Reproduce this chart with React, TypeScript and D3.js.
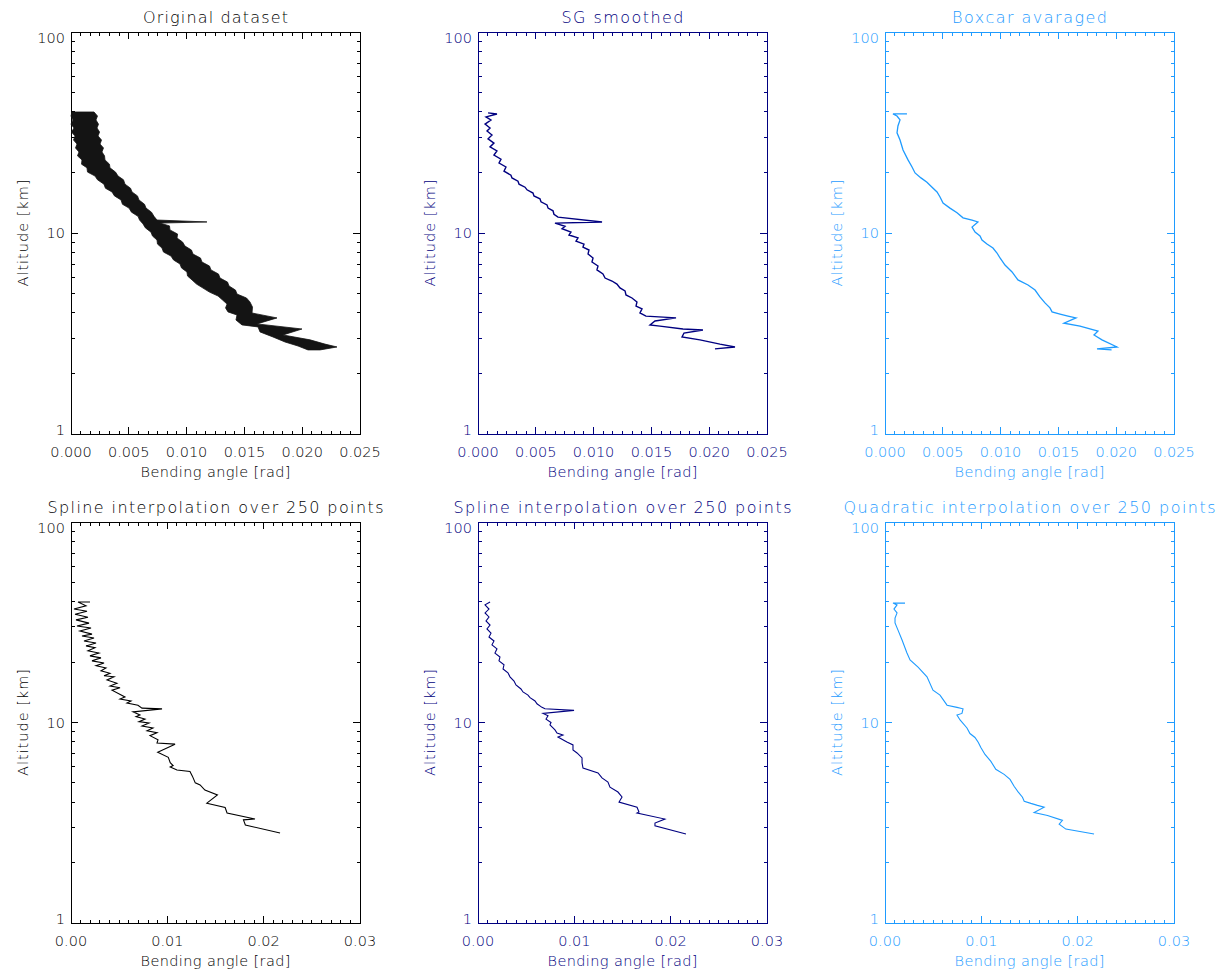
import React from "react";
import * as d3 from "d3";

type Pt = [number, number]; // [altitude km, bending angle rad]

// ---------- DATA ----------
// Original dataset: dense noisy profile, given by the left and right edges of its band
const originalLeftEdge: Pt[] = [
  [40.0, 0.00009], [38.2, 0.0], [36.5, 0.00017], [34.8, 0.0], [33.3, 0.00026], [31.8, 0.00004],
  [30.4, 0.00035], [29.0, 0.00022], [27.7, 0.00052], [26.5, 0.00039], [25.3, 0.00069], [24.2, 0.00056],
  [23.1, 0.00095], [22.0, 0.00091], [21.1, 0.00138], [20.1, 0.00143], [19.2, 0.00208], [18.4, 0.00229],
  [17.5, 0.00285], [16.7, 0.00298], [16.0, 0.00355], [15.3, 0.00376], [14.6, 0.00433], [13.9, 0.00445],
  [13.3, 0.00502], [12.7, 0.00523], [12.1, 0.0058], [11.6, 0.00593], [11.1, 0.00623], [10.6, 0.00644],
  [10.1, 0.00692], [9.66, 0.00705], [9.23, 0.00744], [8.81, 0.00748], [8.42, 0.00787], [8.04, 0.008],
  [7.68, 0.00865], [7.34, 0.00887], [7.01, 0.00943], [6.7, 0.00956], [6.4, 0.01003], [6.11, 0.01008],
  [5.84, 0.01047], [5.57, 0.01086], [5.32, 0.01142], [5.08, 0.01198], [4.86, 0.01272], [4.64, 0.01311],
  [4.43, 0.0135], [4.24, 0.01337], [4.05, 0.01358], [3.91, 0.01436], [3.69, 0.01427], [3.49, 0.01479],
  [3.41, 0.01618], [3.22, 0.01635], [3.04, 0.01747], [2.87, 0.01851], [2.74, 0.01964], [2.62, 0.0205],
];
const originalRightEdge: Pt[] = [
  [40.0, 0.00199], [38.2, 0.00229], [36.5, 0.00216], [34.8, 0.00238], [33.3, 0.00225], [31.8, 0.00247],
  [30.4, 0.00234], [29.0, 0.00264], [27.7, 0.00251], [26.5, 0.00281], [25.3, 0.00268], [24.2, 0.0029],
  [23.1, 0.00294], [22.0, 0.00333], [21.1, 0.00337], [20.1, 0.00385], [19.2, 0.00407], [18.4, 0.00454],
  [17.5, 0.00467], [16.7, 0.00515], [16.0, 0.00528], [15.3, 0.00575], [14.6, 0.00588], [13.9, 0.00636],
  [13.3, 0.00649], [12.7, 0.00696], [12.1, 0.00718], [11.6, 0.00744], [11.35, 0.01176], [11.2, 0.0077],
  [10.85, 0.00852], [10.36, 0.00856], [9.88, 0.00922], [9.44, 0.00917], [9.02, 0.00965], [8.61, 0.00986],
  [8.23, 0.01042], [7.86, 0.01055], [7.51, 0.0112], [7.17, 0.01133], [6.85, 0.01198], [6.55, 0.01211],
  [6.25, 0.01276], [5.97, 0.01289], [5.7, 0.01354], [5.45, 0.01367], [5.2, 0.01423], [4.97, 0.01436],
  [4.75, 0.01518], [4.54, 0.01548], [4.28, 0.0157], [4.0, 0.01566], [3.78, 0.01782], [3.53, 0.01609],
  [3.33, 0.01998], [3.11, 0.01834], [2.94, 0.02068], [2.8, 0.02197], [2.71, 0.02301], [2.62, 0.02154],
];

const sgSmoothed: Pt[] = [
  [39.6, 0.00087], [39.1, 0.00164], [37.8, 0.00069], [36.5, 0.00112], [34.8, 0.00061], [33.3, 0.00104],
  [32.2, 0.00078], [30.7, 0.00121], [29.4, 0.00087], [28.0, 0.00138], [26.8, 0.00104], [25.6, 0.00164],
  [24.4, 0.00138], [23.3, 0.00199], [22.3, 0.00182], [21.3, 0.00242], [20.3, 0.00225], [19.4, 0.00285],
  [18.8, 0.00294], [18.1, 0.00346], [17.5, 0.00355], [16.9, 0.00407], [16.4, 0.00424], [15.8, 0.00476],
  [15.3, 0.00484], [14.8, 0.00536], [14.3, 0.00545], [13.8, 0.00597], [13.3, 0.00606], [12.9, 0.00649],
  [12.4, 0.00657], [12.0, 0.00692], [11.35, 0.01073], [11.2, 0.00666], [10.8, 0.00753], [10.5, 0.00727],
  [10.1, 0.00804], [9.77, 0.00787], [9.45, 0.00865], [9.12, 0.00848], [8.81, 0.00917], [8.51, 0.00908],
  [8.23, 0.0096], [7.86, 0.00952], [7.51, 0.00995], [7.17, 0.00986], [6.85, 0.01038], [6.55, 0.01029],
  [6.25, 0.01081], [5.97, 0.01099], [5.77, 0.01159], [5.57, 0.01202], [5.33, 0.01228], [5.15, 0.01272],
  [4.92, 0.0128], [4.75, 0.01332], [4.54, 0.01375], [4.33, 0.01367], [4.19, 0.01419], [4.0, 0.01401],
  [3.86, 0.01453], [3.78, 0.01713], [3.65, 0.01531], [3.49, 0.01488], [3.44, 0.01574], [3.33, 0.01773],
  [3.29, 0.01946], [3.18, 0.01782], [3.04, 0.01765], [2.94, 0.0192], [2.8, 0.02093], [2.71, 0.02223],
  [2.65, 0.0205],
];

const boxcarAveraged: Pt[] = [
  [39.1, 0.0019], [39.1, 0.00069], [38.2, 0.00104], [36.5, 0.0013], [34.1, 0.00112], [31.5, 0.00104],
  [29.0, 0.0013], [25.9, 0.00156], [23.1, 0.00199], [21.3, 0.00234], [19.9, 0.0026], [18.8, 0.00311],
  [17.9, 0.00363], [16.9, 0.00407], [16.0, 0.0045], [15.1, 0.00476], [14.1, 0.00502], [13.3, 0.00562],
  [12.6, 0.00623], [11.9, 0.00675], [11.6, 0.00753], [11.35, 0.00804], [10.7, 0.00753], [10.1, 0.00779],
  [9.66, 0.00822], [9.23, 0.00839], [8.81, 0.00882], [8.42, 0.00934], [7.95, 0.00969], [7.51, 0.00995],
  [6.93, 0.01038], [6.4, 0.01099], [5.84, 0.0115], [5.51, 0.01237], [5.2, 0.01298], [4.81, 0.0134],
  [4.49, 0.01384], [4.24, 0.01427], [4.05, 0.01445], [3.95, 0.01514], [3.86, 0.01583], [3.78, 0.01652],
  [3.56, 0.01548], [3.44, 0.01687], [3.25, 0.01842], [3.11, 0.01808], [2.94, 0.01877], [2.71, 0.02007],
  [2.65, 0.01834], [2.62, 0.0196],
];

const splineOriginal: Pt[] = [
  [39.9, 0.00197], [39.9, 0.00073], [38.2, 0.00156], [36.8, 0.00031], [35.9, 0.00166], [34.7, 0.00042],
  [33.5, 0.00176], [32.5, 0.00052], [31.3, 0.00187], [30.3, 0.00062], [29.6, 0.00208], [28.6, 0.00093],
  [27.6, 0.00218], [27.0, 0.00114], [26.4, 0.00239], [25.5, 0.00135], [24.9, 0.0026], [24.1, 0.00156],
  [23.6, 0.00249], [22.8, 0.00176], [22.2, 0.0029], [21.5, 0.00197], [21.0, 0.00311], [20.3, 0.00218],
  [19.8, 0.00343], [19.2, 0.0026], [18.7, 0.00363], [18.1, 0.00311], [17.6, 0.00405], [17.1, 0.00343],
  [16.9, 0.00446], [16.3, 0.00374], [15.7, 0.00477], [15.2, 0.00405], [14.9, 0.00509], [14.5, 0.00426],
  [13.4, 0.0056], [13.1, 0.00509], [12.8, 0.00623], [12.5, 0.00581], [12.2, 0.00695], [11.8, 0.00737],
  [11.7, 0.00945], [11.3, 0.00644], [10.9, 0.00716], [10.7, 0.00675], [10.4, 0.00768], [10.1, 0.00706],
  [9.95, 0.0081], [9.6, 0.00737], [9.4, 0.00851], [9.1, 0.00789], [8.9, 0.00893], [8.6, 0.0082],
  [8.2, 0.00903], [7.9, 0.00893], [7.8, 0.0108], [7.1, 0.009], [6.7, 0.0101], [6.3, 0.0103],
  [6.1, 0.0106], [6.0, 0.0103], [5.8, 0.011], [5.7, 0.01235], [5.4, 0.0126], [5.0, 0.0129],
  [4.88, 0.0134], [4.6, 0.0139], [4.35, 0.0152], [3.96, 0.0141], [3.77, 0.016], [3.54, 0.0162],
  [3.3, 0.0191], [3.27, 0.0179], [3.08, 0.0181], [2.81, 0.0217],
];

const splineSG: Pt[] = [
  [39.9, 0.00125], [38.6, 0.00073], [36.8, 0.00114], [35.2, 0.00073], [33.6, 0.00114], [32.1, 0.00083],
  [30.6, 0.00125], [29.3, 0.00093], [27.9, 0.00135], [26.7, 0.00114], [25.5, 0.00166], [24.4, 0.00145],
  [23.3, 0.00197], [22.2, 0.00176], [21.2, 0.00228], [20.3, 0.00218], [19.4, 0.0027], [18.5, 0.0026],
  [17.7, 0.00311], [16.9, 0.00332], [16.1, 0.00374], [15.4, 0.00394], [14.7, 0.00446], [14.2, 0.00467],
  [13.7, 0.00519], [13.3, 0.0054], [12.8, 0.00592], [12.4, 0.00612], [11.9, 0.00664], [11.7, 0.00695],
  [11.5, 0.00997], [11.1, 0.00675], [10.8, 0.00727], [10.4, 0.00706], [10.0, 0.00758], [9.72, 0.00747],
  [9.18, 0.00799], [8.87, 0.0082], [8.67, 0.00882], [8.47, 0.0083], [8.0, 0.00923], [7.73, 0.00986],
  [7.29, 0.00986], [7.05, 0.01028], [6.66, 0.0108], [6.29, 0.0108], [5.93, 0.0109], [5.6, 0.01246],
  [5.29, 0.01287], [5.05, 0.01349], [4.76, 0.0137], [4.5, 0.01453], [4.25, 0.01495], [4.01, 0.01464],
  [3.78, 0.01651], [3.58, 0.01671], [3.54, 0.01651], [3.3, 0.0194], [3.15, 0.01837], [3.05, 0.01837],
  [2.78, 0.02159],
];

const quadraticBoxcar: Pt[] = [
  [39.4, 0.00208], [39.4, 0.00083], [38.6, 0.00125], [36.8, 0.00093], [35.2, 0.00125], [33.2, 0.00104],
  [31.4, 0.00104], [28.9, 0.00135], [25.8, 0.00177], [22.2, 0.00228], [20.5, 0.0026], [18.9, 0.00343],
  [16.9, 0.00436], [14.5, 0.00498], [13.7, 0.00571], [12.2, 0.00644], [11.9, 0.00747], [11.7, 0.0081],
  [11.1, 0.00799], [10.9, 0.00747], [10.3, 0.00779], [9.39, 0.00851], [8.81, 0.00882], [8.42, 0.00934],
  [7.95, 0.00969], [7.51, 0.00995], [6.93, 0.01038], [6.4, 0.01099], [5.84, 0.0115], [5.51, 0.01237],
  [5.2, 0.01298], [4.81, 0.0134], [4.49, 0.01384], [4.24, 0.01427], [4.05, 0.01445], [3.95, 0.01514],
  [3.86, 0.01583], [3.78, 0.01652], [3.56, 0.01548], [3.44, 0.01687], [3.25, 0.01842], [3.11, 0.01808],
  [2.94, 0.01877], [2.78, 0.0217],
];

const altTicks = [1, 10, 100];
const altMinorTicks = [2, 3, 4, 5, 6, 7, 8, 9, 20, 30, 40, 50, 60, 70, 80, 90];
const topXTicks = [0, 0.005, 0.01, 0.015, 0.02, 0.025];
const bottomXTicks = [0, 0.01, 0.02, 0.03];
const xTitle = "Bending angle [rad]";
const yTitle = "Altitude [km]";

const BLACK = "#000000";
const NAVY = "#000080";
const LIGHT = "#1e9bff";
const FONT = "'DejaVu Sans', sans-serif";

type Scales = { x: d3.ScaleLinear<number, number>; y: d3.ScaleLogarithmic<number, number> };

type PanelProps = {
  left: number;
  top: number;
  width: number;
  height: number;
  color: string;
  title: string;
  titleLen: number;
  xTicks: number[];
  decimals: number;
  sub: number;
  draw: (s: Scales) => React.ReactNode;
};

function Panel({ left, top, width, height, color, title, titleLen, xTicks, decimals, sub, draw }: PanelProps) {
  const x = d3.scaleLinear().domain([xTicks[0], xTicks[xTicks.length - 1]]).range([left, left + width]);
  const y = d3.scaleLog().domain([1, 100]).range([top + height, top]);
  const step = xTicks[1] - xTicks[0];
  const nMinor = Math.round(((xTicks[xTicks.length - 1] - xTicks[0]) / step) * sub);
  const minorX: number[] = [];
  for (let k = 1; k < nMinor; k++) if (k % sub !== 0) minorX.push(xTicks[0] + (k * step) / sub);
  const fmt = d3.format(`.${decimals}f`);
  const bottom = top + height;
  const right = left + width;
  const majL = 7;
  const minL = 3.5;
  const cx = left + width / 2;
  const labelDy = (i: number) => (i === 0 ? 1 : i === altTicks.length - 1 ? 10.5 : 5);
  return (
    <g fill={color} stroke="none" fontFamily={FONT}>
      <g stroke={color} strokeWidth={1} shapeRendering="crispEdges" fill="none">
        <rect x={left} y={top} width={width} height={height} />
        {xTicks.map((t) => (
          <g key={"xm" + t}>
            <line x1={x(t)} x2={x(t)} y1={bottom} y2={bottom - majL} />
            <line x1={x(t)} x2={x(t)} y1={top} y2={top + majL} />
          </g>
        ))}
        {minorX.map((t) => (
          <g key={"xn" + t}>
            <line x1={x(t)} x2={x(t)} y1={bottom} y2={bottom - minL} />
            <line x1={x(t)} x2={x(t)} y1={top} y2={top + minL} />
          </g>
        ))}
        {altTicks.map((t) => (
          <g key={"ym" + t}>
            <line x1={left} x2={left + majL} y1={y(t)} y2={y(t)} />
            <line x1={right} x2={right - majL} y1={y(t)} y2={y(t)} />
          </g>
        ))}
        {altMinorTicks.map((t) => (
          <g key={"yn" + t}>
            <line x1={left} x2={left + minL} y1={y(t)} y2={y(t)} />
            <line x1={right} x2={right - minL} y1={y(t)} y2={y(t)} />
          </g>
        ))}
      </g>
      {xTicks.map((t) => (
        <text key={"xl" + t} x={x(t)} y={bottom + 23} fontSize={14.5} textAnchor="middle" fontWeight={200}>
          {fmt(t)}
        </text>
      ))}
      {altTicks.map((t, i) => (
        <text key={"yl" + t} x={left - 6} y={y(t) + labelDy(i)} fontSize={14.5} textAnchor="end" fontWeight={200}>
          {String(t)}
        </text>
      ))}
      <text x={cx} y={bottom + 43} fontSize={14.5} textAnchor="middle" fontWeight={200}
        textLength={150} lengthAdjust="spacing">
        {xTitle}
      </text>
      <text
        transform={`translate(${left - 43},${top + height / 2}) rotate(-90)`}
        fontSize={14.5}
        textAnchor="middle"
        fontWeight={200}
        textLength={107}
        lengthAdjust="spacing"
      >
        {yTitle}
      </text>
      <text x={cx} y={top - 9} fontSize={16} textAnchor="middle" fontWeight={200}
        textLength={titleLen} lengthAdjust="spacing">
        {title}
      </text>
      {draw({ x, y })}
    </g>
  );
}

const cols = [71, 478, 885];
const rows = [32, 522];
const PW = 289;
const PH = [402, 401];

function linePath(s: Scales, data: Pt[]) {
  return (
    d3
      .line<Pt>()
      .x((d) => s.x(d[1]))
      .y((d) => s.y(d[0]))(data) || ""
  );
}

export default function App() {
  const band = (s: Scales) => {
    const poly = [...originalLeftEdge, ...originalRightEdge.slice().reverse()];
    return (
      <path d={linePath(s, poly) + "Z"} fill="#141414" stroke="#141414" strokeWidth={0.8} strokeLinejoin="miter" />
    );
  };
  const line = (data: Pt[], color: string, w: number) => (s: Scales) => (
    <path d={linePath(s, data)} fill="none" stroke={color} strokeWidth={w} strokeLinejoin="miter" />
  );
  return (
    <svg
      width={1226}
      height={974}
      viewBox="0 0 1226 974"
      style={{ position: "absolute", left: 0, top: 0, background: "#fff" }}
    >
      <rect x={0} y={0} width={1226} height={974} fill="#fff" />
      <Panel left={cols[0]} top={rows[0]} width={PW} height={PH[0]} color={BLACK} title="Original dataset"
        titleLen={145} xTicks={topXTicks} decimals={3} sub={6} draw={band} />
      <Panel left={cols[1]} top={rows[0]} width={PW} height={PH[0]} color={NAVY} title="SG smoothed"
        titleLen={122} xTicks={topXTicks} decimals={3} sub={6} draw={line(sgSmoothed, NAVY, 1.4)} />
      <Panel left={cols[2]} top={rows[0]} width={PW} height={PH[0]} color={LIGHT} title="Boxcar avaraged"
        titleLen={155} xTicks={topXTicks} decimals={3} sub={6} draw={line(boxcarAveraged, LIGHT, 1.3)} />
      <Panel left={cols[0]} top={rows[1]} width={PW} height={PH[1]} color={BLACK}
        title="Spline interpolation over 250 points" titleLen={336} xTicks={bottomXTicks} decimals={2} sub={10}
        draw={line(splineOriginal, BLACK, 1.1)} />
      <Panel left={cols[1]} top={rows[1]} width={PW} height={PH[1]} color={NAVY}
        title="Spline interpolation over 250 points" titleLen={338} xTicks={bottomXTicks} decimals={2} sub={10}
        draw={line(splineSG, NAVY, 1.1)} />
      <Panel left={cols[2]} top={rows[1]} width={PW} height={PH[1]} color={LIGHT}
        title="Quadratic interpolation over 250 points" titleLen={372} xTicks={bottomXTicks} decimals={2} sub={10}
        draw={line(quadraticBoxcar, LIGHT, 1.1)} />
    </svg>
  );
}
